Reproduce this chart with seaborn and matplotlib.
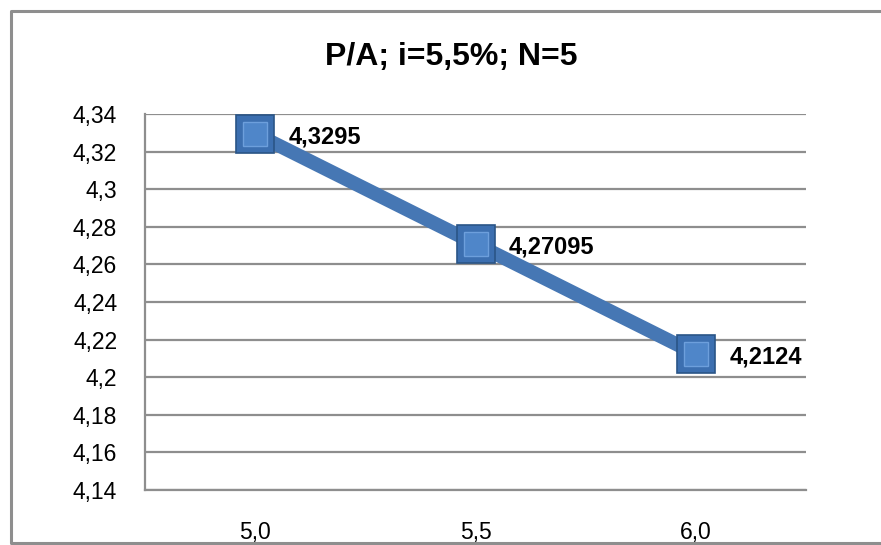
import numpy as np
import matplotlib
matplotlib.use('Agg')
import matplotlib.pyplot as plt
import seaborn as sns
from matplotlib.ticker import FuncFormatter, MultipleLocator
from matplotlib.lines import Line2D

# data
rates = ['5,0', '5,5', '6,0']
pa_values = [4.3295, 4.27095, 4.2124]
chart_title = 'P/A; i=5,5%; N=5'

sns.set_theme(style='white')
plt.rcParams['font.family'] = ['Liberation Sans', 'DejaVu Sans']

grid_col = '#8e8e8e'
line_col = '#4677b4'

fig = plt.figure(figsize=(8.81, 5.45), dpi=100)
ax = fig.add_axes([145 / 881, 1 - 490 / 545, (806 - 145) / 881, (490 - 114) / 545])

# outer chart border: top, left and bottom only (right side runs off the image)
bx0, by0, by1 = 11 / 881, 1 - 543 / 545, 1 - 11 / 545
fig.lines.append(Line2D([1.0, bx0, bx0, 1.0], [by1, by1, by0, by0], transform=fig.transFigure,
                        color=grid_col, linewidth=2.2))

sns.lineplot(x=rates, y=pa_values, ax=ax, color=line_col, linewidth=10,
             solid_capstyle='butt', sort=False, zorder=3)
# square markers with a simple bevel look
ax.plot(rates, pa_values, linestyle='none', marker='s', markersize=27,
        markerfacecolor='#3c6fb0', markeredgecolor='#2a5587', markeredgewidth=1.2, zorder=4)
ax.plot(rates, pa_values, linestyle='none', marker='s', markersize=17,
        markerfacecolor='#4f86c9', markeredgecolor='#6d9fdc', markeredgewidth=1.0, zorder=5)

for i, v in enumerate(pa_values):
    ax.annotate(str(v).replace('.', ','), (i, v), xytext=(24, -2), textcoords='offset points',
                ha='left', va='center', fontsize=17, fontweight='bold', color='black', zorder=6)

ax.set_xlim(-0.5, 2.5)
ax.set_ylim(4.14, 4.34)
ax.yaxis.set_major_locator(MultipleLocator(0.02))


def comma_fmt(v, pos):
    s = f'{v:.2f}'.rstrip('0').rstrip('.')
    return s.replace('.', ',')


ax.yaxis.set_major_formatter(FuncFormatter(comma_fmt))
ax.grid(axis='y', color=grid_col, linewidth=1.6)
ax.grid(axis='x', visible=False)
ax.set_axisbelow(True)

for side in ['top', 'right']:
    ax.spines[side].set_visible(False)
for side in ['left', 'bottom']:
    ax.spines[side].set_color(grid_col)
    ax.spines[side].set_linewidth(1.6)

ax.tick_params(axis='y', length=0, pad=20, labelsize=16.5, colors='black')
ax.tick_params(axis='x', length=0, pad=22, labelsize=16.5, colors='black')
ax.set_xlabel('')
ax.set_ylabel('')

fig.text(451 / 881, 1 - 57 / 545, chart_title, ha='center', va='center',
         fontsize=23, fontweight='bold', color='black')

fig.savefig('out.png', dpi=100)
